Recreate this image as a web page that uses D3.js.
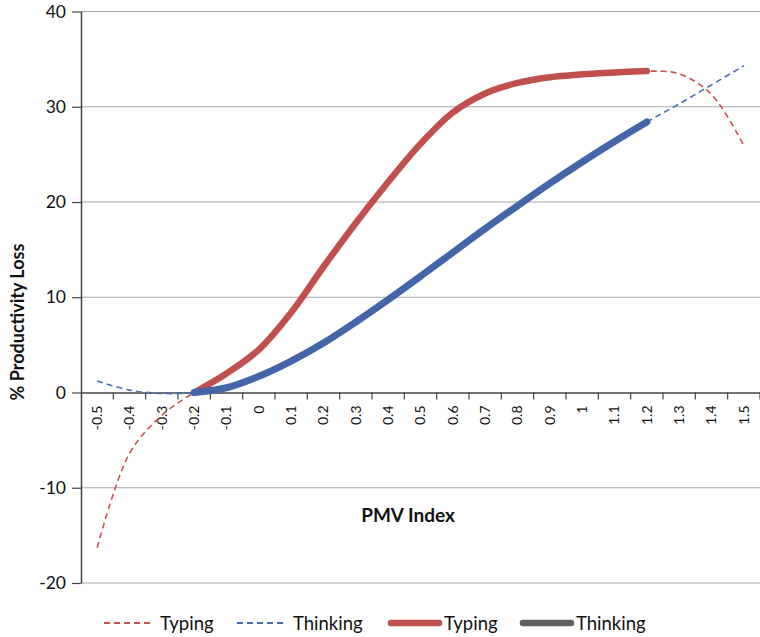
<!DOCTYPE html>
<html>
<head>
<meta charset="utf-8">
<script src="https://cdn.jsdelivr.net/npm/d3@7"></script>
<style>
  html, body { margin: 0; padding: 0; background: #fff; }
  svg { display: block; font-family: Lato, "Open Sans", sans-serif; }
</style>
</head>
<body>
<svg id="chart" width="760" height="637"></svg>
<script>
// ---- Data ----
const categories = ["-0.5","-0.4","-0.3","-0.2","-0.1","0","0.1","0.2","0.3","0.4","0.5","0.6","0.7","0.8","0.9","1","1.1","1.2","1.3","1.4","1.5"];
// dashed (full range) series
const typingDashed   = [-16.3, -6.4, -2.4, 0.0, 2.0, 4.5, 8.4, 13.2, 17.8, 22.1, 26.1, 29.4, 31.4, 32.5, 33.1, 33.4, 33.6, 33.75, 33.45, 31.3, 25.9];
const thinkingDashed = [1.2, 0.25, -0.1, 0.0, 0.5, 1.7, 3.3, 5.2, 7.4, 9.75, 12.2, 14.7, 17.2, 19.6, 21.95, 24.2, 26.35, 28.4, 30.3, 32.3, 34.3];
// solid series (-0.2 .. 1.2)
const solidCategories = ["-0.2","-0.1","0","0.1","0.2","0.3","0.4","0.5","0.6","0.7","0.8","0.9","1","1.1","1.2"];
const typingSolid   = [0.0, 2.0, 4.5, 8.4, 13.2, 17.8, 22.1, 26.1, 29.4, 31.4, 32.5, 33.1, 33.4, 33.6, 33.75];
const thinkingSolid = [0.0, 0.5, 1.7, 3.3, 5.2, 7.4, 9.75, 12.2, 14.7, 17.2, 19.6, 21.95, 24.2, 26.35, 28.4];
const yTicks = [-20, -10, 0, 10, 20, 30, 40];
const legendItems = [
  {label: "Typing",   color: "#c9544f", dashed: true},
  {label: "Thinking", color: "#4a6db0", dashed: true},
  {label: "Typing",   color: "#c0504d", dashed: false},
  {label: "Thinking", color: "#606060", dashed: false}
];

// ---- Layout ----
const svg = d3.select("#chart");
const mLeft = 81, mRight = 760, mTop = 11.5, mBottom = 583;

const x = d3.scaleBand().domain(categories).range([mLeft, mRight]).paddingInner(0).paddingOuter(0);
const y = d3.scaleLinear().domain([-20, 40]).range([mBottom, mTop]);
const cx = c => x(c) + x.bandwidth() / 2;

// gridlines
svg.append("g").selectAll("line").data(yTicks.filter(v => v !== 0)).join("line")
  .attr("x1", mLeft).attr("x2", mRight)
  .attr("y1", d => y(d)).attr("y2", d => y(d))
  .attr("stroke", "#a8a8a8").attr("stroke-width", 1);

// y axis
const yAxis = svg.append("g").attr("transform", `translate(${mLeft},0)`)
  .call(d3.axisLeft(y).tickValues(yTicks).tickFormat(d => String(d)).tickSize(9).tickPadding(6).tickSizeOuter(0));
yAxis.select(".domain").attr("stroke", "#444").attr("stroke-width", 1.5);
yAxis.selectAll(".tick line").attr("stroke", "#444").attr("stroke-width", 1.2);
yAxis.selectAll(".tick text").attr("font-size", 17.5).attr("font-family", "Lato, sans-serif").attr("fill", "#111");

// x axis at y=0
const xAxis = svg.append("g").attr("transform", `translate(0,${y(0)})`)
  .call(d3.axisBottom(x).tickSize(0).tickPadding(0).tickSizeOuter(0));
xAxis.select(".domain").attr("stroke", "#444").attr("stroke-width", 1.5);
xAxis.selectAll(".tick text")
  .attr("font-size", 14).attr("font-family", "Lato, sans-serif").attr("fill", "#111")
  .attr("text-anchor", "end")
  .attr("transform", "rotate(-90)")
  .attr("x", -13).attr("y", 0).attr("dy", "0.35em");
// boundary tick marks
const bounds = categories.map(c => x(c)).concat([x.range()[1]]);
svg.append("g").selectAll("line").data(bounds.slice(1)).join("line")
  .attr("x1", d => d).attr("x2", d => d)
  .attr("y1", y(0)).attr("y2", y(0) + 7)
  .attr("stroke", "#444").attr("stroke-width", 1.2);

// lines
const curve = d3.curveCatmullRom.alpha(0.5);
const lineFull = d3.line().x((d, i) => cx(categories[i])).y(d => y(d)).curve(curve);
const lineSolid = d3.line().x((d, i) => cx(solidCategories[i])).y(d => y(d)).curve(curve);

svg.append("path").datum(typingDashed).attr("d", lineFull)
  .attr("fill", "none").attr("stroke", "#c9544f").attr("stroke-width", 1.6).attr("stroke-dasharray", "6,4");
svg.append("path").datum(thinkingDashed).attr("d", lineFull)
  .attr("fill", "none").attr("stroke", "#4a6db0").attr("stroke-width", 1.6).attr("stroke-dasharray", "6,4");
svg.append("path").datum(typingSolid).attr("d", lineSolid)
  .attr("fill", "none").attr("stroke", "#c0504d").attr("stroke-width", 6.5).attr("stroke-linecap", "round").attr("stroke-linejoin", "round");
svg.append("path").datum(thinkingSolid).attr("d", lineSolid)
  .attr("fill", "none").attr("stroke", "#4466a8").attr("stroke-width", 7).attr("stroke-linecap", "round").attr("stroke-linejoin", "round");

// axis titles
svg.append("text").attr("x", 408).attr("y", 522).attr("text-anchor", "middle")
  .attr("font-size", 19).attr("font-weight", "bold").attr("fill", "#111").text("PMV Index");
svg.append("text").attr("transform", "translate(24,322) rotate(-90)").attr("text-anchor", "middle")
  .attr("font-size", 18).attr("font-weight", "bold").attr("fill", "#111").text("% Productivity Loss");

// legend
const legendX = [104, 237, 388, 520];
const lg = svg.append("g");
legendItems.forEach((it, i) => {
  const g = lg.append("g").attr("transform", `translate(${legendX[i]},623)`);
  if (it.dashed) {
    g.append("line").attr("x1", 0).attr("x2", 50).attr("y1", 0).attr("y2", 0)
      .attr("stroke", it.color).attr("stroke-width", 2).attr("stroke-dasharray", "6,4");
  } else {
    g.append("line").attr("x1", 3).attr("x2", 51).attr("y1", 0).attr("y2", 0)
      .attr("stroke", it.color).attr("stroke-width", 6.5).attr("stroke-linecap", "round");
  }
  g.append("text").attr("x", 56).attr("y", 6.5).attr("font-size", 18.5).attr("fill", "#111").text(it.label);
});
</script>
</body>
</html>
